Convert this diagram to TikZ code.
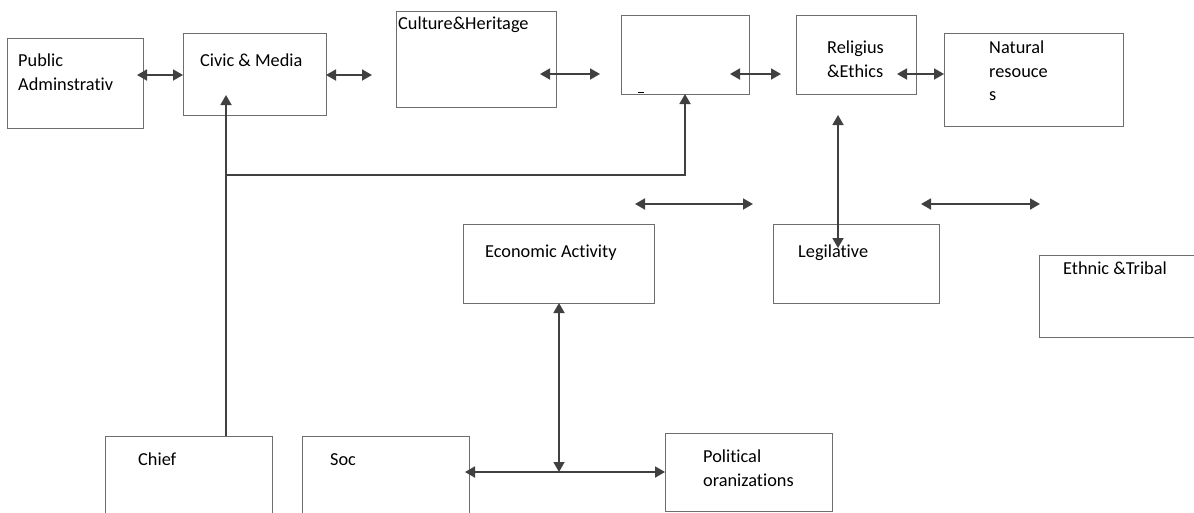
\documentclass[tikz,border=0pt]{standalone}
\usepackage{fontspec}
\setmainfont{Carlito}[Ligatures={NoCommon}]
\usetikzlibrary{arrows.meta}
\definecolor{boxgray}{HTML}{6E6E6E}
\definecolor{arrgray}{HTML}{404040}
\tikzset{
  box/.style={draw=boxgray, line width=1.2pt, inner sep=0pt, anchor=north west, fill=none},
  lbl/.style={anchor=base west, inner sep=0pt, font=\fontsize{18.3}{24}\selectfont, text=black},
  conn/.style={draw=arrgray, line width=1.8pt},
  dbl/.style={conn, {Triangle[length=10pt,width=11pt]}-{Triangle[length=10pt,width=11pt]}},
  sgl/.style={conn, -{Triangle[length=10pt,width=11pt]}}
}
\begin{document}
\begin{tikzpicture}[x=1pt,y=-1pt]
\useasboundingbox (0,0) rectangle (1194,512);

% boxes
\node[box, minimum width=136pt, minimum height=90pt] (pa) at (7,38) {};
\node[box, minimum width=143pt, minimum height=82pt] (cm) at (183,33) {};
\node[box, minimum width=160pt, minimum height=96pt] (ch) at (396,11) {};
\node[box, minimum width=128pt, minimum height=79pt] (em) at (621,15) {};
\node[box, minimum width=120pt, minimum height=79pt] (re) at (796,15) {};
\node[box, minimum width=179pt, minimum height=93pt] (nr) at (944,33) {};
\node[box, minimum width=191pt, minimum height=79pt] (ea) at (463,224) {};
\node[box, minimum width=166pt, minimum height=79pt] (lg) at (773,224) {};
\node[box, minimum width=170pt, minimum height=82pt] (et) at (1039,255) {};
\node[box, minimum width=167pt, minimum height=90pt] (chief) at (105,436) {};
\node[box, minimum width=167pt, minimum height=90pt] (soc) at (302,436) {};
\node[box, minimum width=167pt, minimum height=78pt] (po) at (665,433) {};

% labels
\node[lbl] (tpa1) at (18,66) {Public};
\node[lbl] (tpa2) at (18,90) {Adminstrativ};
\node[lbl] (tcm) at (200,66) {Civic \& Media};
\node[lbl] (tch) at (398,29) {Culture\&Heritage};
\node[lbl] (tre1) at (827,53) {Religius};
\node[lbl] (tre2) at (827,77) {\&Ethics};
\node[lbl] (tnr1) at (989,53) {Natural};
\node[lbl] (tnr2) at (989,77) {resouce};
\node[lbl] (tnr3) at (989,100) {s};
\node[lbl] (tea) at (485,257) {Economic Activity};
\node[lbl] (tlg) at (798,257) {Legilative};
\node[lbl] (tet) at (1063,274) {Ethnic \&Tribal};
\node[lbl] (tchief) at (138,465) {Chief};
\node[lbl] (tsoc) at (330,465) {Soc};
\node[lbl] (tpo1) at (703,462) {Political};
\node[lbl] (tpo2) at (703,486) {oranizations};

% stray mark
\draw[line width=1pt] (638,92.5) -- (644,92.5);

% connector end points
\coordinate (a1s) at (137,75);  \coordinate (a1e) at (183,75);
\coordinate (a2s) at (326,75);  \coordinate (a2e) at (372,75);
\coordinate (a3s) at (540,74);  \coordinate (a3e) at (600,74);
\coordinate (a4s) at (730,74);  \coordinate (a4e) at (781,74);
\coordinate (a5s) at (897,74);  \coordinate (a5e) at (944,74);
\coordinate (cmin) at (226,95);
\coordinate (chtop) at (226,436);
\coordinate (jn) at (226,175);
\coordinate (jc) at (685,175);
\coordinate (emin) at (685,94);
\coordinate (reb) at (838,115);
\coordinate (lgin) at (838,248);
\coordinate (m1s) at (635,204); \coordinate (m1e) at (753,204);
\coordinate (m2s) at (921,204); \coordinate (m2e) at (1040,204);
\coordinate (eab) at (559,303);
\coordinate (hj) at (559,472);
\coordinate (hs) at (465,472);
\coordinate (he) at (665,472);

% connectors
\draw[dbl] (a1s) -- (a1e);
\draw[dbl] (a2s) -- (a2e);
\draw[dbl] (a3s) -- (a3e);
\draw[dbl] (a4s) -- (a4e);
\draw[dbl] (a5s) -- (a5e);
\draw[sgl] (chtop) -- (cmin);
\draw[sgl] (jn) -- (jc) -- (emin);
\draw[dbl] (reb) -- (lgin);
\draw[dbl] (m1s) -- (m1e);
\draw[dbl] (m2s) -- (m2e);
\draw[dbl] (eab) -- (hj);
\draw[dbl] (hs) -- (he);
\end{tikzpicture}
\end{document}
